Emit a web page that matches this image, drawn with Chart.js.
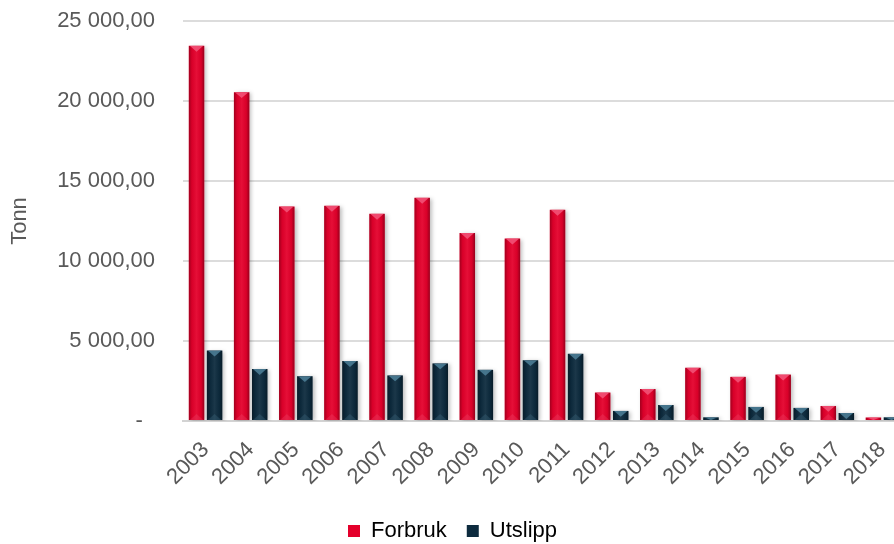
<!DOCTYPE html>
<html lang="no">
<head>
<meta charset="utf-8">
<title>Forbruk og utslipp</title>
<script src="https://cdn.jsdelivr.net/npm/chart.js@4.4.1/dist/chart.umd.min.js"></script>
<style>
  html, body { margin: 0; padding: 0; background: #fff; overflow: hidden; }
  #wrap { width: 894px; height: 544px; overflow: hidden; }
</style>
</head>
<body>
<div id="wrap"><canvas id="chart" width="912" height="544"></canvas></div>
<script>
// ==================== DATA ====================
const aar = ['2003', '2004', '2005', '2006', '2007', '2008', '2009', '2010',
             '2011', '2012', '2013', '2014', '2015', '2016', '2017', '2018'];
const forbruk = [23450, 20550, 13400, 13450, 12950, 13950, 11750, 11400,
                 13200, 1780, 2000, 3330, 2760, 2900, 940, 220];
const utslipp = [4400, 3250, 2800, 3750, 2850, 3600, 3200, 3800,
                 4200, 630, 1000, 230, 880, 820, 500, 230];
const yTicks = [0, 5000, 10000, 15000, 20000, 25000];

const RED = '#E4002B';
const RED_LIGHT = '#F2567A';
const NAVY = '#0D2B3E';
const NAVY_LIGHT = '#4E8099';
const TEXT = '#595959';
const FONT_SIZE = 22;

// "25 000,00" style, zero shown as a dash
function formatTonn(v) {
  if (v === 0) return '-  ';
  const [heltall, des] = v.toFixed(2).split('.');
  return heltall.replace(/\B(?=(\d{3})+(?!\d))/g, ' ') + ',' + des;
}

// ==================== BEVEL PLUGIN ====================
// drop shadow under bars + shaded sides and a lighter top triangle
const bevelPlugin = {
  id: 'bevel',
  beforeDatasetsDraw(chart) {
    const ctx = chart.ctx;
    ctx.save();
    ctx.shadowColor = 'rgba(0,0,0,0.25)';
    ctx.shadowBlur = 4;
    ctx.shadowOffsetX = 2;
    ctx.shadowOffsetY = 1;
  },
  afterDatasetsDraw(chart) {
    const ctx = chart.ctx;
    ctx.restore();
    const lights = [RED_LIGHT, NAVY_LIGHT];
    chart.data.datasets.forEach((ds, di) => {
      const meta = chart.getDatasetMeta(di);
      meta.data.forEach(bar => {
        const { x, y, base, width } = bar.getProps(['x', 'y', 'base', 'width'], true);
        const l = x - width / 2, r = x + width / 2;
        const h = base - y;
        if (h <= 0) return;
        ctx.save();
        ctx.beginPath();
        ctx.rect(l, y, width, h);
        ctx.clip();
        // side shading
        const g = ctx.createLinearGradient(l, 0, r, 0);
        g.addColorStop(0, 'rgba(0,0,0,0.30)');
        g.addColorStop(0.2, 'rgba(0,0,0,0.05)');
        g.addColorStop(0.5, 'rgba(255,255,255,0.06)');
        g.addColorStop(0.8, 'rgba(0,0,0,0.05)');
        g.addColorStop(1, 'rgba(0,0,0,0.35)');
        ctx.fillStyle = g;
        ctx.fillRect(l, y, width, h);
        // top bevel
        const d = Math.min(width * 0.38, h);
        ctx.beginPath();
        ctx.moveTo(l + 1, y);
        ctx.lineTo(r - 1, y);
        ctx.lineTo(x, y + d);
        ctx.closePath();
        ctx.fillStyle = lights[di];
        ctx.globalAlpha = 0.85;
        ctx.fill();
        // faint bottom bevel
        if (h > d * 2) {
          ctx.beginPath();
          ctx.moveTo(l + 1, base);
          ctx.lineTo(r - 1, base);
          ctx.lineTo(x, base - d);
          ctx.closePath();
          ctx.globalAlpha = 0.25;
          ctx.fill();
        }
        ctx.restore();
      });
    });
  }
};

// ==================== CHART ====================
Chart.defaults.font.family = '"Liberation Sans", Arial, sans-serif';
Chart.defaults.color = TEXT;

new Chart(document.getElementById('chart'), {
  type: 'bar',
  data: {
    labels: aar,
    datasets: [
      { label: 'Forbruk', data: forbruk, backgroundColor: RED },
      { label: 'Utslipp', data: utslipp, backgroundColor: NAVY }
    ]
  },
  plugins: [bevelPlugin],
  options: {
    responsive: false,
    animation: false,
    devicePixelRatio: 1,
    categoryPercentage: 0.8,
    barPercentage: 0.86,
    layout: { padding: { top: 21, right: 7, left: 0, bottom: -8 } },
    plugins: {
      tooltip: { enabled: false },
      legend: {
        position: 'bottom',
        labels: {
          font: { size: FONT_SIZE },
          color: TEXT,
          boxWidth: 12,
          boxHeight: 12,
          padding: 20,
          generateLabels: () => [
            { text: 'Forbruk', fillStyle: RED, strokeStyle: RED, lineWidth: 0, datasetIndex: 0 },
            { text: 'Utslipp', fillStyle: NAVY, strokeStyle: NAVY, lineWidth: 0, datasetIndex: 1 }
          ]
        }
      }
    },
    scales: {
      x: {
        grid: { display: false },
        border: { display: true, color: '#D3D3D3', width: 2 },
        ticks: {
          font: { size: FONT_SIZE },
          color: TEXT,
          minRotation: 45,
          maxRotation: 45,
          padding: 8
        },
        afterFit(scale) { scale.height = 79; }
      },
      y: {
        min: 0,
        max: 25000,
        afterBuildTicks(scale) { scale.ticks = yTicks.map(v => ({ value: v })); },
        // invisible tick marks push the labels away from the plot
        grid: { color: '#DCDCDC', lineWidth: 2, drawTicks: true, tickLength: 28, tickColor: 'rgba(0,0,0,0)' },
        border: { display: false },
        ticks: {
          font: { size: FONT_SIZE },
          color: TEXT,
          padding: 0,
          callback: v => formatTonn(v)
        },
        title: {
          display: true,
          text: 'Tonn',
          font: { size: FONT_SIZE },
          color: TEXT,
          padding: { top: 7, bottom: 0 }
        },
        afterFit(scale) { scale.width = 183; }
      }
    }
  }
});
</script>
</body>
</html>
